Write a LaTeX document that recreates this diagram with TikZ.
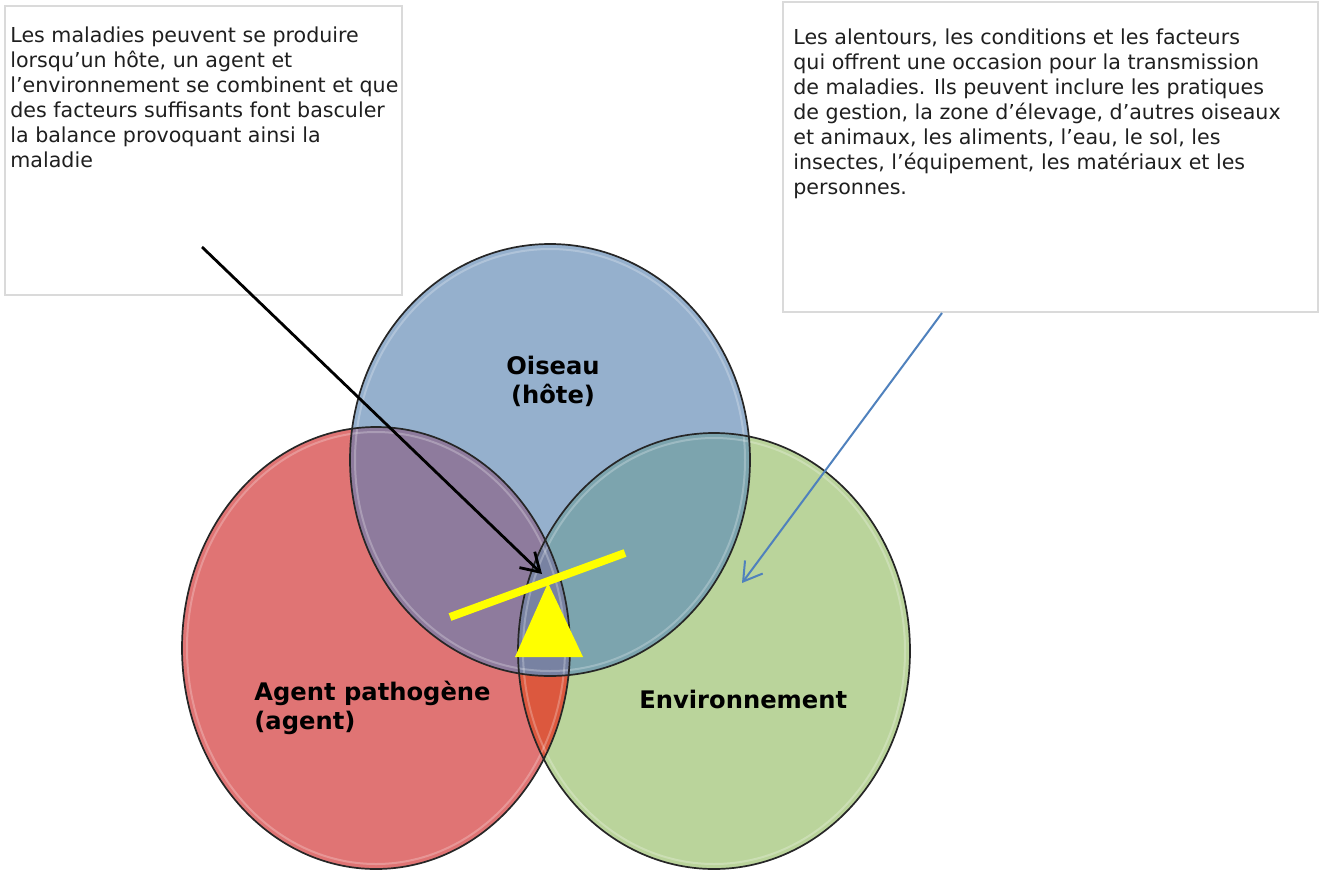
\documentclass[tikz,border=0pt]{standalone}
\usepackage{fontspec}
\setmainfont{DejaVu Sans}
\usetikzlibrary{arrows.meta}
\definecolor{redf}{RGB}{224,116,116}
\definecolor{bluef}{RGB}{149,176,205}
\definecolor{greenf}{RGB}{186,212,155}
\definecolor{purp}{RGB}{142,123,157}
\definecolor{tealf}{RGB}{124,164,174}
\definecolor{orng}{RGB}{220,88,62}
\definecolor{triplef}{RGB}{120,130,162}
\definecolor{framegray}{RGB}{218,218,218}
\definecolor{arrowblue}{RGB}{79,129,189}
\definecolor{seesaw}{RGB}{255,255,0}
\begin{document}
\begin{tikzpicture}[x=0.5pt,y=-0.5pt,
  outline/.style={draw=black!85, line width=0.85pt},
  gloss/.style={draw=white, draw opacity=0.25, line width=1pt},
  boxframe/.style={draw=framegray, line width=0.7pt},
  boxtext/.style={anchor=north west, inner sep=0pt, align=left,
    font=\fontsize{10.3}{12.5}\selectfont, text=black!88},
  circlabel/.style={inner sep=0pt, font=\fontsize{12.1}{14.5}\selectfont\bfseries, text=black},
]
\useasboundingbox (0,0) rectangle (1321,873);
\fill[white] (0,0) rectangle (1321,873);

% text boxes
\draw[boxframe] (5,6) rectangle (402,295);
\draw[boxframe] (783,2) rectangle (1318,312);
\node[boxtext] (lefttext) at (10,26) {Les maladies peuvent se produire\\
lorsqu’un hôte, un agent et\\
l’environnement se combinent et que\\
des facteurs suffisants font basculer\\
la balance provoquant ainsi la\\
maladie};
\node[boxtext] (righttext) at (793,28) {Les alentours, les conditions et les facteurs\\
qui offrent une occasion pour la transmission\\
de maladies. Ils peuvent inclure les pratiques\\
de gestion, la zone d’élevage, d’autres oiseaux\\
et animaux, les aliments, l’eau, le sol, les\\
insectes, l’équipement, les matériaux et les\\
personnes.};

% base fills
\fill[redf] (376,648) ellipse [x radius=194, y radius=221];
\fill[greenf] (714,651) ellipse [x radius=196, y radius=218];
\fill[bluef] (550,460) ellipse [x radius=200, y radius=216];
% red & green
\begin{scope}
  \clip (376,648) ellipse [x radius=194, y radius=221];
  \fill[orng] (714,651) ellipse [x radius=196, y radius=218];
\end{scope}
% red & blue
\begin{scope}
  \clip (376,648) ellipse [x radius=194, y radius=221];
  \fill[purp] (550,460) ellipse [x radius=200, y radius=216];
\end{scope}
% blue & green
\begin{scope}
  \clip (714,651) ellipse [x radius=196, y radius=218];
  \fill[tealf] (550,460) ellipse [x radius=200, y radius=216];
\end{scope}
% triple
\begin{scope}
  \clip (714,651) ellipse [x radius=196, y radius=218];
  \clip (376,648) ellipse [x radius=194, y radius=221];
  \fill[triplef] (550,460) ellipse [x radius=200, y radius=216];
\end{scope}
% gloss rings
\draw[gloss] (376,648) ellipse [x radius=189, y radius=216];
\draw[gloss] (714,651) ellipse [x radius=191, y radius=213];
\draw[gloss] (550,460) ellipse [x radius=195, y radius=211];
% outlines
\draw[outline] (376,648) ellipse [x radius=194, y radius=221];
\draw[outline] (714,651) ellipse [x radius=196, y radius=218];
\draw[outline] (550,460) ellipse [x radius=200, y radius=216];

% labels
\node[circlabel, align=center, anchor=north] (oiseau) at (553,356) {Oiseau\\(hôte)};
\node[circlabel, align=left, anchor=north west] (agent) at (254,681) {Agent pathogène\\(agent)};
\node[circlabel, anchor=north west] (env) at (639,690) {Environnement};

% seesaw
\coordinate (barL) at (450,617);
\coordinate (barR) at (625,553);
\coordinate (apex) at (548,583);
\coordinate (baseL) at (515,657);
\coordinate (baseR) at (583,657);
\draw[seesaw, line width=4pt] (barL) -- (barR);
\fill[seesaw] (apex) -- (baseR) -- (baseL) -- cycle;

% arrows
\coordinate (blackstart) at (202,247);
\coordinate (blackend) at (542,574);
\coordinate (bluestart) at (942,313);
\coordinate (blueend) at (742,583);
\draw[black, line width=1.4pt, -{Straight Barb[length=9pt,width=11pt]}] (blackstart) -- (blackend);
\draw[arrowblue, line width=1pt, -{Straight Barb[length=9pt,width=11pt]}] (bluestart) -- (blueend);
\end{tikzpicture}
\end{document}
